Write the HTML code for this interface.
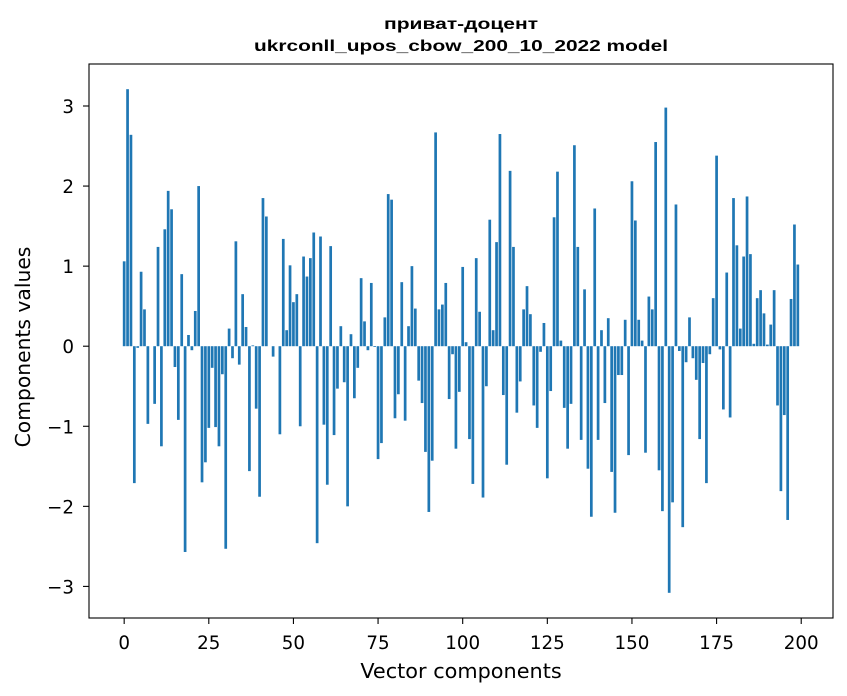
<!DOCTYPE html>
<html><head><meta charset="utf-8"><style>
body{margin:0;background:#fff;}
svg{display:block;font-family:"DejaVu Sans","Liberation Sans",sans-serif;}
</style></head><body>
<svg id="chart" width="847" height="696" viewBox="0 0 847 696" xmlns="http://www.w3.org/2000/svg">
<rect x="0" y="0" width="847" height="696" fill="#fff"/>
<text x="461" y="29" text-anchor="middle" font-size="16" font-weight="bold" textLength="154" lengthAdjust="spacingAndGlyphs" font-family="Liberation Sans, sans-serif">приват-доцент</text>
<text x="461" y="51" text-anchor="middle" font-size="16" font-weight="bold" textLength="414" lengthAdjust="spacingAndGlyphs" font-family="Liberation Sans, sans-serif">ukrconll_upos_cbow_200_10_2022 model</text>
<g id="bars"></g>
<g id="xticks"></g>
<g id="yticks"></g>
<rect x="89" y="64" width="744" height="554" fill="none" stroke="#000" stroke-width="1.1"/>
<text x="461" y="678" text-anchor="middle" font-size="20.8">Vector components</text>
<text x="0" y="0" transform="translate(30,347) rotate(-90)" text-anchor="middle" font-size="20.3">Components values</text>
</svg>
<script>
const values = [1.06,3.21,2.64,-1.71,-0.02,0.93,0.46,-0.97,0,-0.72,
1.24,-1.25,1.46,1.94,1.71,-0.26,-0.92,0.9,-2.57,0.14,
-0.05,0.44,2.0,-1.7,-1.45,-1.02,-0.27,-1.01,-1.25,-0.35,
-2.53,0.22,-0.15,1.31,-0.23,0.65,0.24,-1.56,0.01,-0.78,
-1.88,1.85,1.62,0,-0.13,0,-1.1,1.34,0.2,1.01,
0.55,0.65,-1.0,1.12,0.87,1.1,1.42,-2.46,1.37,-0.98,
-1.73,1.25,-1.11,-0.53,0.25,-0.45,-2.0,0.15,-0.65,-0.27,
0.85,0.31,-0.05,0.79,-0.01,-1.41,-1.21,0.36,1.9,1.83,
-0.9,-0.6,0.8,-0.93,0.25,1.0,0.47,-0.43,-0.71,-1.32,
-2.07,-1.43,2.67,0.46,0.52,0.79,-0.66,-0.1,-1.28,-0.57,
0.99,0.05,-1.16,-1.72,1.1,0.43,-1.89,-0.5,1.58,0.2,
1.3,2.65,-0.61,-1.48,2.19,1.24,-0.83,-0.44,0.46,0.75,
0.4,-0.74,-1.02,-0.07,0.29,-1.65,-0.56,1.61,2.18,0.07,
-0.77,-1.28,-0.72,2.51,1.24,-1.17,0.71,-1.53,-2.13,1.72,
-1.17,0.2,-0.71,0.35,-1.57,-2.08,-0.36,-0.36,0.33,-1.36,
2.06,1.57,0.33,0.07,-1.33,0.62,0.46,2.55,-1.55,-2.06,
2.98,-3.08,-1.95,1.77,-0.06,-2.26,-0.2,0.36,-0.15,-0.42,
-1.16,-0.21,-1.71,-0.1,0.6,2.38,-0.04,-0.79,0.92,-0.89,
1.85,1.26,0.22,1.12,1.87,1.15,0.03,0.6,0.7,0.41,
0.02,0.27,0.7,-0.74,-1.81,-0.86,-2.17,0.59,1.52,1.02];
const xTickValues = [0,25,50,75,100,125,150,175,200];
const yTickValues = [-3,-2,-1,0,1,2,3];

const NS = "http://www.w3.org/2000/svg";
const L = 89, R = 833, T = 64, B = 618;
const n = values.length;
const xmin0 = -0.4, xmax0 = n - 1 + 0.4;
const xpad = (xmax0 - xmin0) * 0.05;
const xmin = xmin0 - xpad, xmax = xmax0 + xpad;
const vmin = Math.min(0, ...values), vmax = Math.max(0, ...values);
const ypad = (vmax - vmin) * 0.05;
const ymin = vmin - ypad, ymax = vmax + ypad;
function xs(v){ return L + (v - xmin) / (xmax - xmin) * (R - L); }
function ys(v){ return B - (v - ymin) / (ymax - ymin) * (B - T); }

const bars = document.getElementById('bars');
values.forEach((v, i) => {
  const r = document.createElementNS(NS, 'rect');
  const x0 = xs(i - 0.4), x1 = xs(i + 0.4);
  const y0 = ys(Math.max(0, v)), y1 = ys(Math.min(0, v));
  r.setAttribute('x', x0);
  r.setAttribute('width', x1 - x0);
  r.setAttribute('y', y0);
  r.setAttribute('height', Math.max(0, y1 - y0));
  r.setAttribute('fill', '#1f77b4');
  
  
  bars.appendChild(r);
});

const xg = document.getElementById('xticks');
xTickValues.forEach(t => {
  const x = xs(t);
  const l = document.createElementNS(NS, 'line');
  l.setAttribute('x1', x); l.setAttribute('x2', x);
  l.setAttribute('y1', B); l.setAttribute('y2', B + 6);
  l.setAttribute('stroke', '#000'); l.setAttribute('stroke-width', '1.1');
  
  
  xg.appendChild(l);
  const tx = document.createElementNS(NS, 'text');
  tx.setAttribute('x', x); tx.setAttribute('y', 649);
  tx.setAttribute('text-anchor', 'middle'); tx.setAttribute('font-size', '18.3');
  tx.textContent = String(t);
  
  
  xg.appendChild(tx);
});

const yg = document.getElementById('yticks');
yTickValues.forEach(t => {
  const y = ys(t);
  const l = document.createElementNS(NS, 'line');
  l.setAttribute('x1', L - 6); l.setAttribute('x2', L);
  l.setAttribute('y1', y); l.setAttribute('y2', y);
  l.setAttribute('stroke', '#000'); l.setAttribute('stroke-width', '1.1');
  
  
  yg.appendChild(l);
  const tx = document.createElementNS(NS, 'text');
  tx.setAttribute('x', 74); tx.setAttribute('y', y + 7);
  tx.setAttribute('text-anchor', 'end'); tx.setAttribute('font-size', '18.3');
  tx.textContent = t < 0 ? '\u2212' + Math.abs(t) : String(t);
  
  
  yg.appendChild(tx);
});
</script>
</body></html>
